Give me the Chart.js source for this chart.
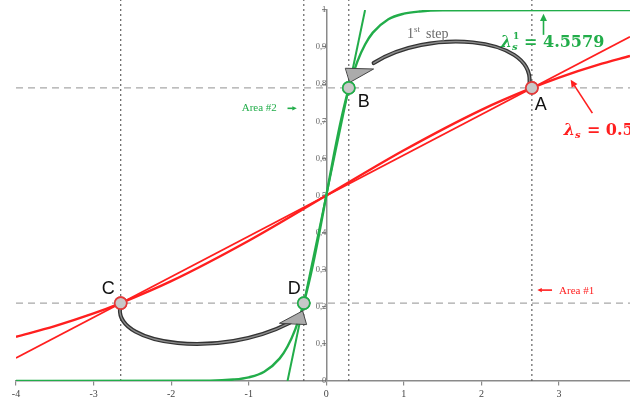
<!DOCTYPE html>
<html>
<head>
<meta charset="utf-8">
<script src="https://cdn.jsdelivr.net/npm/chart.js@4/dist/chart.umd.min.js"></script>
<style>
  html, body { margin: 0; padding: 0; background: #fff; }
  #wrap { width: 630px; height: 401px; }
</style>
</head>
<body>
<div id="wrap"><canvas id="chart" width="630" height="401"></canvas></div>
<script>
// x / y ranges of the picture
const xMin = -4, xMax = 3.915;
const yMin = 0, yMax = 1;
const guideTop = 1.027;

// red sigmoid, lambda = 0.5
const redCurveX = [-4, -3.5, -3, -2.65, -2, -1, 0, 1, 2, 2.65, 3, 3.5, 3.915];
const redCurveY = [0.119, 0.148, 0.182, 0.21, 0.269, 0.378, 0.5, 0.622, 0.731, 0.79, 0.818, 0.852, 0.876];

// red straight line through C, centre and A
const redLineX = [-4, 3.915];
const redLineY = [0.062, 0.928];

// green sigmoid, lambda = 4.5579
const greenCurveX = [-4, -1.5, -1.2, -1, -0.8, -0.6, -0.5, -0.4, -0.3, -0.2, -0.1, 0, 0.1, 0.2, 0.3, 0.4, 0.5, 0.6, 0.8, 1, 1.2, 1.5, 3.915];
const greenCurveY = [0, 0.001, 0.004, 0.01, 0.025, 0.061, 0.093, 0.139, 0.203, 0.287, 0.388, 0.5, 0.612, 0.713, 0.797, 0.861, 0.907, 0.939, 0.975, 0.99, 0.996, 0.999, 1];

// green straight line through D, centre and B
const greenLineX = [-0.5, 0.5];
const greenLineY = [0, 1];

// fixed points
const pointNames = ["A", "B", "C", "D"];
const pointX = [2.65, 0.29, -2.65, -0.29];
const pointY = [0.79, 0.79, 0.21, 0.21];

// guide lines
const guideX = [-2.65, -0.29, 0.29, 2.65];
const guideY = [0.21, 0.79];

const RED = "#ff1f1f";
const GREEN = "#22ad4a";
const POINT_RED = "#e23a3a";

function xy(xs, ys) {
  return xs.map((v, i) => ({ x: v, y: ys[i] }));
}

const datasets = [];

// points on top
datasets.push({
  data: xy(pointX, pointY),
  showLine: false,
  pointRadius: 6,
  pointBackgroundColor: "#c8c8c8",
  pointBorderColor: [POINT_RED, GREEN, POINT_RED, GREEN],
  pointBorderWidth: 1.6,
  order: 0,
});

datasets.push({
  data: xy(greenLineX, greenLineY),
  showLine: true, borderColor: GREEN, borderWidth: 2, pointRadius: 0, order: 1,
});
datasets.push({
  data: xy(greenCurveX, greenCurveY),
  showLine: true, borderColor: GREEN, borderWidth: 2.4, pointRadius: 0,
  cubicInterpolationMode: "monotone", order: 1,
});
datasets.push({
  data: xy(redLineX, redLineY),
  showLine: true, borderColor: RED, borderWidth: 1.8, pointRadius: 0, order: 1,
});
datasets.push({
  data: xy(redCurveX, redCurveY),
  showLine: true, borderColor: RED, borderWidth: 2.4, pointRadius: 0,
  cubicInterpolationMode: "monotone", order: 1,
});

// dashed horizontal guides
guideY.forEach((g) => {
  datasets.push({
    data: xy([xMin, xMax], [g, g]),
    showLine: true, borderColor: "#a8a8a8", borderWidth: 1.2, borderDash: [7, 5],
    pointRadius: 0, order: 2,
  });
});
// dotted vertical guides
guideX.forEach((g) => {
  datasets.push({
    data: xy([g, g], [yMin, guideTop]),
    showLine: true, borderColor: "#555", borderWidth: 1.1, borderDash: [2, 3],
    pointRadius: 0, order: 2, clip: false,
  });
});

function arrowHead(ctx, pts, fill, stroke) {
  ctx.beginPath();
  ctx.moveTo(pts[0][0], pts[0][1]);
  ctx.lineTo(pts[1][0], pts[1][1]);
  ctx.lineTo(pts[2][0], pts[2][1]);
  ctx.closePath();
  ctx.fillStyle = fill;
  ctx.fill();
  if (stroke) {
    ctx.strokeStyle = stroke;
    ctx.lineWidth = 1;
    ctx.stroke();
  }
}

function curvedArrow(ctx, p, head) {
  ctx.save();
  ctx.lineCap = "round";
  ctx.beginPath();
  ctx.moveTo(p[0][0], p[0][1]);
  ctx.bezierCurveTo(p[1][0], p[1][1], p[2][0], p[2][1], p[3][0], p[3][1]);
  ctx.strokeStyle = "#333";
  ctx.lineWidth = 4;
  ctx.stroke();
  ctx.beginPath();
  ctx.moveTo(p[0][0], p[0][1]);
  ctx.bezierCurveTo(p[1][0], p[1][1], p[2][0], p[2][1], p[3][0], p[3][1]);
  ctx.strokeStyle = "#8c8c8c";
  ctx.lineWidth = 1.4;
  ctx.stroke();
  arrowHead(ctx, head, "#ababab", "#444");
  ctx.restore();
}

function straightArrow(ctx, from, to, color, size) {
  const ang = Math.atan2(to[1] - from[1], to[0] - from[0]);
  ctx.save();
  ctx.strokeStyle = color;
  ctx.fillStyle = color;
  ctx.lineWidth = 1.6;
  ctx.beginPath();
  ctx.moveTo(from[0], from[1]);
  ctx.lineTo(to[0] - Math.cos(ang) * size * 0.8, to[1] - Math.sin(ang) * size * 0.8);
  ctx.stroke();
  ctx.beginPath();
  ctx.moveTo(to[0], to[1]);
  ctx.lineTo(to[0] - Math.cos(ang - 0.45) * size, to[1] - Math.sin(ang - 0.45) * size);
  ctx.lineTo(to[0] - Math.cos(ang + 0.45) * size, to[1] - Math.sin(ang + 0.45) * size);
  ctx.closePath();
  ctx.fill();
  ctx.restore();
}

// label offsets (pixels) of A, B, C, D from their points: left edge, baseline
const labelDx = [3, 9, -19, -16];
const labelDy = [22, 19, -9, -9];

const annotations = {
  id: "annotations",
  afterDatasetsDraw(chart) {
    const ctx = chart.ctx;
    const sx = chart.scales.x, sy = chart.scales.y;
    const P = (a, b) => [sx.getPixelForValue(a), sy.getPixelForValue(b)];

    // 1st step: A -> B
    curvedArrow(ctx,
      [P(2.62, 0.805), P(2.66, 0.93), P(1.3, 0.95), P(0.61, 0.857)],
      [P(0.25, 0.843), P(0.61, 0.841), P(0.305, 0.805)]);
    // C -> D
    curvedArrow(ctx,
      [P(-2.66, 0.195), P(-2.7, 0.095), P(-1.37, 0.06), P(-0.47, 0.157)],
      [P(-0.6, 0.156), P(-0.305, 0.189), P(-0.255, 0.153)]);

    // redraw the four points over the arrows
    chart.getDatasetMeta(0).controller.draw();

    ctx.save();
    ctx.textBaseline = "alphabetic";
    ctx.textAlign = "left";

    // point labels
    ctx.fillStyle = "#111";
    ctx.font = "18px 'Liberation Sans', Arial, sans-serif";
    pointNames.forEach((n, i) => {
      const p = P(pointX[i], pointY[i]);
      ctx.fillText(n, p[0] + labelDx[i], p[1] + labelDy[i]);
    });

    // "1st step"
    ctx.fillStyle = "#6a6a6a";
    let t = P(1.04, 0.925);
    ctx.font = "14px 'Liberation Serif', 'Times New Roman', serif";
    ctx.fillText("1", t[0], t[1]);
    let w1 = ctx.measureText("1").width;
    ctx.font = "9px 'Liberation Serif', 'Times New Roman', serif";
    ctx.fillText("st", t[0] + w1, t[1] - 6);
    let w2 = ctx.measureText("st").width;
    ctx.font = "14px 'Liberation Serif', 'Times New Roman', serif";
    ctx.fillText("step", t[0] + w1 + w2 + 6, t[1]);

    // green lambda
    ctx.fillStyle = GREEN;
    t = P(2.25, 0.9);
    ctx.font = "italic bold 16px 'DejaVu Serif', 'Liberation Serif', serif";
    ctx.fillText("λ", t[0], t[1]);
    let lw = ctx.measureText("λ").width;
    ctx.font = "bold 9px 'DejaVu Serif', serif";
    ctx.fillText("1", t[0] + lw + 1, t[1] - 8);
    ctx.font = "italic bold 10px 'DejaVu Serif', serif";
    ctx.fillText("s", t[0] + lw, t[1] + 3);
    ctx.font = "bold 16px 'DejaVu Serif', 'Liberation Serif', serif";
    ctx.fillText("= 4.5579", t[0] + lw + 12, t[1]);
    straightArrow(ctx, P(2.8, 0.933), P(2.8, 0.99), GREEN, 8);

    // red lambda
    ctx.fillStyle = RED;
    t = P(3.06, 0.662);
    ctx.font = "italic bold 16px 'DejaVu Serif', 'Liberation Serif', serif";
    ctx.fillText("λ", t[0], t[1]);
    lw = ctx.measureText("λ").width;
    ctx.font = "italic bold 10px 'DejaVu Serif', serif";
    ctx.fillText("s", t[0] + lw, t[1] + 3);
    ctx.font = "bold 16px 'DejaVu Serif', 'Liberation Serif', serif";
    ctx.fillText("= 0.5", t[0] + lw + 12, t[1]);
    straightArrow(ctx, P(3.43, 0.722), P(3.15, 0.812), RED, 8);

    // area labels
    ctx.font = "11px 'Liberation Serif', 'Times New Roman', serif";
    ctx.fillStyle = GREEN;
    t = P(-1.09, 0.727);
    ctx.fillText("Area #2", t[0], t[1]);
    straightArrow(ctx, P(-0.5, 0.735), P(-0.38, 0.735), GREEN, 5);

    ctx.fillStyle = RED;
    t = P(3.0, 0.235);
    ctx.fillText("Area #1", t[0], t[1]);
    straightArrow(ctx, P(2.91, 0.245), P(2.72, 0.245), RED, 5);

    ctx.restore();
  },
};

const tickFont = { family: "'Liberation Serif', 'Times New Roman', serif", size: 10 };

new Chart(document.getElementById("chart"), {
  type: "scatter",
  data: { datasets },
  options: {
    responsive: false,
    animation: false,
    devicePixelRatio: 1,
    layout: { autoPadding: false, padding: { left: 16, right: 0, top: 10, bottom: 20 } },
    plugins: { legend: { display: false }, tooltip: { enabled: false } },
    scales: {
      x: {
        type: "linear",
        min: xMin, max: xMax,
        position: { y: 0 },
        afterFit: (s) => { s.height = 0; },
        border: { color: "#8a8a8a", width: 1.5 },
        grid: { drawOnChartArea: false, drawTicks: true, tickLength: 4, color: "#8a8a8a", lineWidth: 1.2 },
        ticks: { stepSize: 1, includeBounds: false, padding: 3, color: "#444", font: tickFont,
          callback: (v) => String(v) },
      },
      y: {
        type: "linear",
        min: yMin, max: yMax,
        position: { x: 0 },
        afterFit: (s) => { s.width = 0; },
        border: { color: "#8a8a8a", width: 1.5 },
        grid: { drawOnChartArea: false, drawTicks: true, tickLength: 4, color: "#8a8a8a", lineWidth: 1.2 },
        ticks: { stepSize: 0.1, includeBounds: false, padding: 2, color: "#666", font: { ...tickFont, size: 8.5 },
          callback: (v) => {
            if (Math.abs(v) < 1e-6) return "0";
            if (Math.abs(v - 1) < 1e-6) return "1";
            return v.toFixed(1).replace(".", ",");
          } },
      },
    },
  },
  plugins: [annotations],
});
</script>
</body>
</html>
